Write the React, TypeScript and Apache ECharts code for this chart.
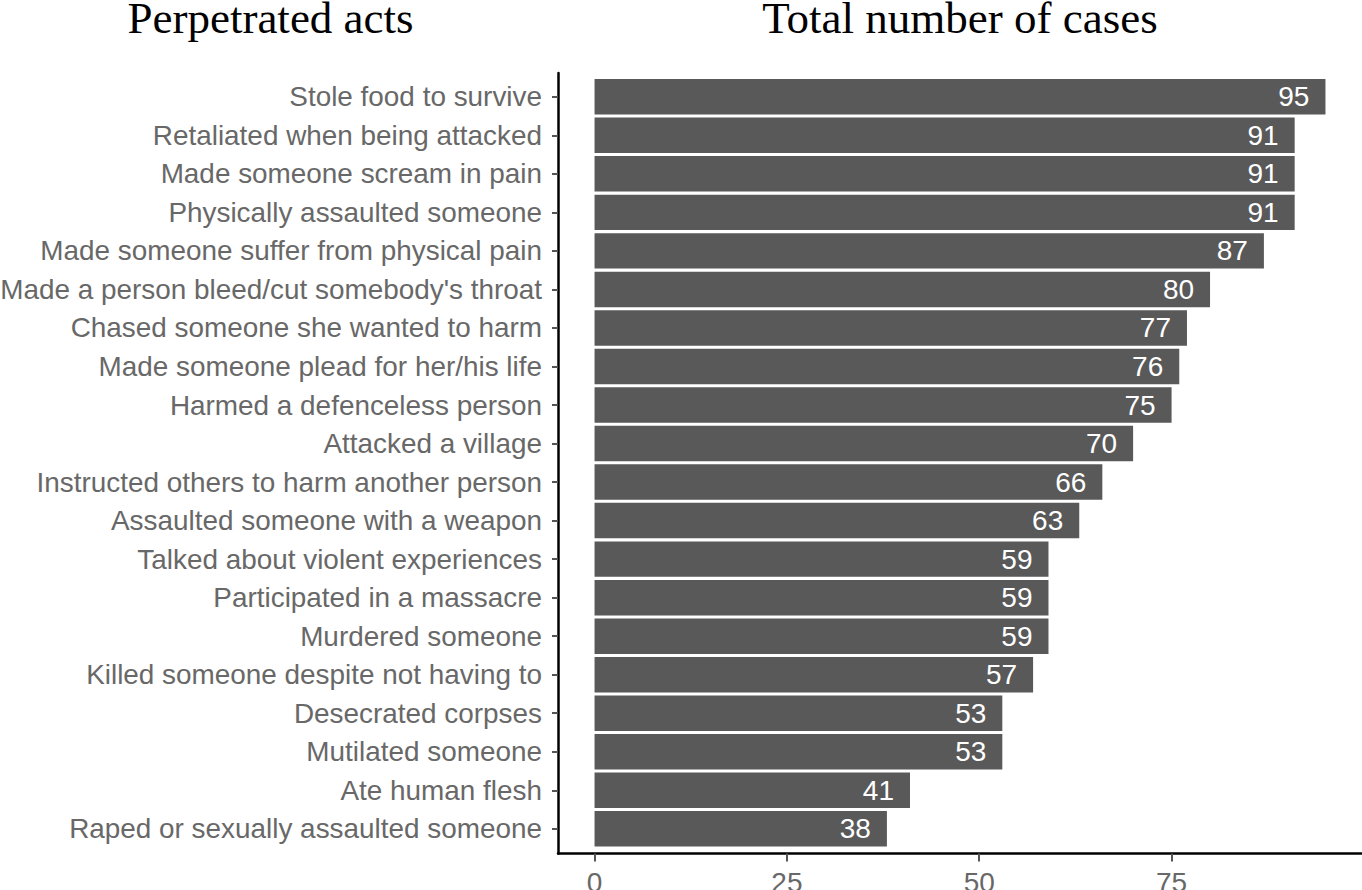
import React, { useEffect, useRef } from "react";
import * as echarts from "echarts";

const categories: string[] = [
  "Stole food to survive",
  "Retaliated when being attacked",
  "Made someone scream in pain",
  "Physically assaulted someone",
  "Made someone suffer from physical pain",
  "Made a person bleed/cut somebody's throat",
  "Chased someone she wanted to harm",
  "Made someone plead for her/his life",
  "Harmed a defenceless person",
  "Attacked a village",
  "Instructed others to harm another person",
  "Assaulted someone with a weapon",
  "Talked about violent experiences",
  "Participated in a massacre",
  "Murdered someone",
  "Killed someone despite not having to",
  "Desecrated corpses",
  "Mutilated someone",
  "Ate human flesh",
  "Raped or sexually assaulted someone",
];

const cases: number[] = [95, 91, 91, 91, 87, 80, 77, 76, 75, 70, 66, 63, 59, 59, 59, 57, 53, 53, 41, 38];

const xTicks: number[] = [0, 25, 50, 75];

const leftTitle = "Perpetrated acts";
const rightTitle = "Total number of cases";

export default function App() {
  const ref = useRef<HTMLDivElement>(null);

  useEffect(() => {
    document.body.style.margin = "0";
    if (!ref.current) return;
    const chart = echarts.init(ref.current, undefined, { renderer: "svg" });
    const sans = "Liberation Sans";
    const grey = "#686868";
    const xMin = -4.75;
    const xMax = 99.75;
    chart.setOption({
      animation: false,
      backgroundColor: "#ffffff",
      grid: [
        { left: 558, right: 0, top: 77.5, bottom: 41.9, containLabel: false, outerBoundsMode: "none" },
        { left: 558, right: 0, top: 73, bottom: 36.5, containLabel: false, outerBoundsMode: "none" },
      ],
      xAxis: [
        {
          type: "value",
          gridIndex: 0,
          min: xMin,
          max: xMax,
          show: false,
        },
        {
          type: "value",
          gridIndex: 1,
          min: xMin,
          max: xMax,
          axisLine: { show: true, onZero: false, lineStyle: { color: "#000000", width: 2.5 } },
          axisTick: {
            show: true,
            length: 8,
            customValues: xTicks,
            lineStyle: { color: "#555555", width: 2 },
          },
          axisLabel: {
            show: true,
            customValues: xTicks,
            margin: 15,
            color: grey,
            fontSize: 28,
            fontFamily: sans,
          },
          splitLine: { show: false },
        },
      ],
      yAxis: [
        {
          type: "category",
          gridIndex: 0,
          data: categories,
          inverse: true,
          axisLine: { show: false, onZero: false },
          axisTick: {
            show: true,
            alignWithLabel: true,
            length: 6,
            lineStyle: { color: "#555555", width: 2 },
          },
          axisLabel: {
            margin: 16,
            color: grey,
            fontSize: 27.9,
            fontFamily: sans,
          },
          splitLine: { show: false },
        },
        {
          type: "value",
          gridIndex: 1,
          min: 0,
          max: 1,
          axisLine: { show: true, onZero: false, lineStyle: { color: "#000000", width: 2.5 } },
          axisTick: { show: false },
          axisLabel: { show: false },
          splitLine: { show: false },
        },
      ],
      series: [
        {
          type: "bar",
          xAxisIndex: 0,
          yAxisIndex: 0,
          data: cases,
          barCategoryGap: "8%",
          itemStyle: { color: "#595959" },
          label: {
            show: true,
            position: "insideRight",
            distance: 16,
            color: "#ffffff",
            fontSize: 28,
            fontFamily: sans,
          },
        },
      ],
      graphic: [
        {
          type: "text",
          x: 270.5,
          y: 18,
          style: {
            text: leftTitle,
            font: "45px 'Liberation Serif'",
            lineHeight: 34,
            fill: "#000000",
            textAlign: "center",
            textVerticalAlign: "middle",
          },
        },
        {
          type: "text",
          x: 960,
          y: 18,
          style: {
            text: rightTitle,
            font: "45px 'Liberation Serif'",
            lineHeight: 34,
            fill: "#000000",
            textAlign: "center",
            textVerticalAlign: "middle",
          },
        },
      ],
    });
    return () => chart.dispose();
  }, []);

  return <div ref={ref} style={{ width: 1362, height: 890 }} />;
}
